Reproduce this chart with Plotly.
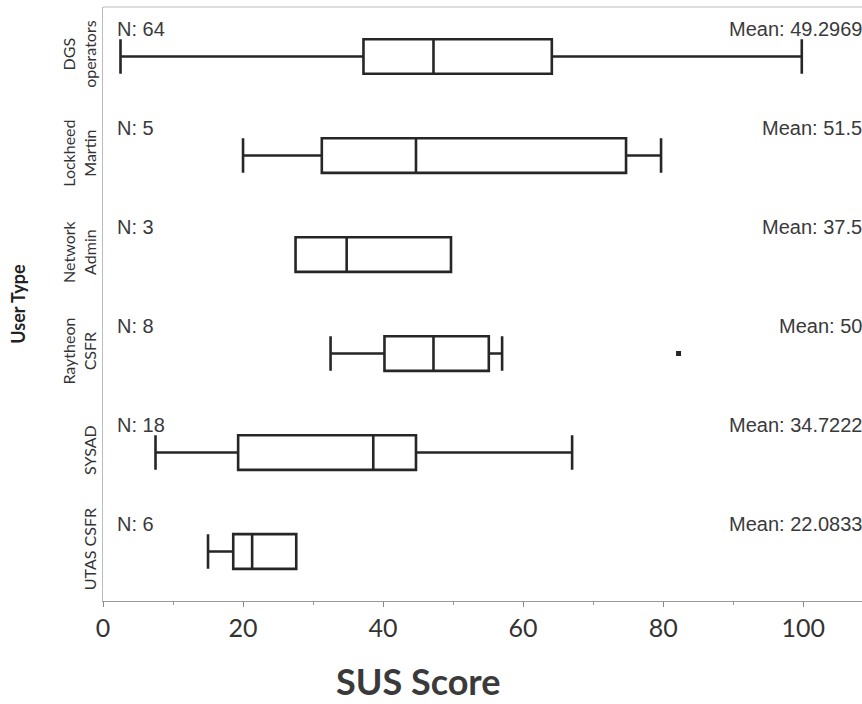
import plotly.graph_objects as go

categories = ["DGS<br>operators", "Lockheed<br>Martin", "Network<br>Admin", "Raytheon<br>CSFR", "SYSAD", "UTAS CSFR"]
n_counts = [64, 5, 3, 8, 18, 6]
means = ["49.2969", "51.5", "37.5", "50", "34.7222", "22.0833"]
lower = [2.5, 20, 27.5, 32.5, 7.5, 15]
q1 = [37.2, 31.25, 27.5, 40.2, 19.3, 18.6]
median = [47.2, 44.7, 34.8, 47.2, 38.6, 21.3]
q3 = [64.1, 74.7, 49.7, 55.1, 44.7, 27.6]
upper = [99.8, 79.7, 49.7, 57.0, 67.0, 27.6]
outlier_cat = ["Raytheon<br>CSFR"]
outlier_val = [82.2]
x_ticks = [0, 20, 40, 60, 80, 100]

line_col = "#262626"
text_col = "#3a3a3a"

fig = go.Figure()
fig.add_trace(go.Box(
    orientation="h", y=categories, q1=q1, median=median, q3=q3,
    lowerfence=lower, upperfence=upper,
    fillcolor="white", line=dict(color=line_col, width=2.6),
    whiskerwidth=1, boxpoints=False, showlegend=False, hoverinfo="x",
))
fig.add_trace(go.Scatter(
    x=outlier_val, y=outlier_cat, mode="markers",
    marker=dict(symbol="square", size=5, color=line_col), showlegend=False,
))

for c, n, m in zip(categories, n_counts, means):
    fig.add_annotation(x=0.016, xref="paper", y=c, yref="y", text=f"N: {n}",
                       showarrow=False, xanchor="left", yshift=28,
                       font=dict(family="Liberation Sans", size=20, color=text_col))
    fig.add_annotation(x=1, xref="paper", y=c, yref="y", text=f"Mean: {m}",
                       showarrow=False, xanchor="right", yshift=28, xshift=2,
                       font=dict(family="Liberation Sans", size=20, color=text_col))

fig.add_annotation(x=0.416, xref="paper", y=-0.135, yref="paper", yanchor="middle",
                   text="<b>SUS Score</b>", showarrow=False,
                   font=dict(family="Lato", size=36, color="#3a3a3a"))

fig.add_shape(type="line", xref="paper", yref="paper", x0=0, x1=1, y0=1, y1=1,
              line=dict(color="#bbb", width=1))

fig.update_layout(
    width=862, height=704,
    margin=dict(l=103, r=0, t=7, b=103),
    paper_bgcolor="white", plot_bgcolor="white",
    boxgap=0.5,
    xaxis=dict(range=[0, 108.4], tickvals=x_ticks, ticks="outside", ticklen=5,
               tickcolor="#888", showline=True, linecolor="#999", linewidth=1,
               showgrid=False, zeroline=False, automargin=False,
               minor=dict(dtick=10, ticks="outside", ticklen=3, tickcolor="#999"),
               tickfont=dict(family="Lato", size=25, color="#333")),
    yaxis=dict(categoryorder="array", categoryarray=categories[::-1],
               tickangle=-90, showline=True, linecolor="#bbb", linewidth=1,
               showgrid=False, zeroline=False, ticks="", automargin=False,
               tickfont=dict(family="Lato", size=16, color="#333"),
               title=dict(text="<b>User Type</b>", standoff=28,
                          font=dict(family="Lato", size=18, color="#222"))),
)

fig.write_html("out.html", config={"displayModeBar": False},
               post_script="document.body.style.margin='0';document.body.style.overflow='hidden';")
